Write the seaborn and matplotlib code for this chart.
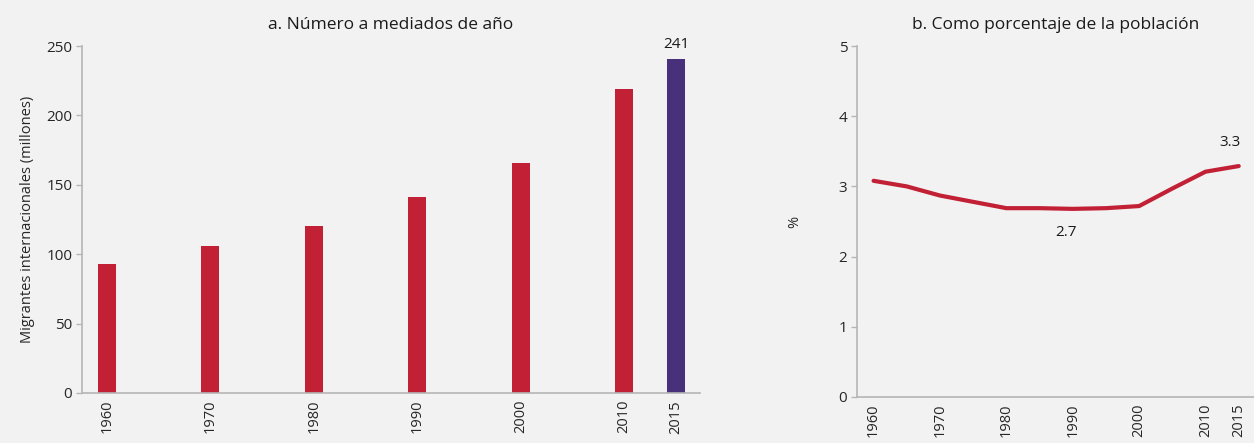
import matplotlib
matplotlib.use('Agg')
import matplotlib.pyplot as plt
import seaborn as sns
import pandas as pd

# datos
anios_barras = [1960, 1970, 1980, 1990, 2000, 2010, 2015]
migrantes = [93, 106, 120, 141, 166, 219, 241]
grupo = ['hist', 'hist', 'hist', 'hist', 'hist', 'hist', 'ult']

anios_linea = [1960, 1965, 1970, 1975, 1980, 1985, 1990, 1995, 2000, 2005, 2010, 2015]
porcentaje = [3.08, 3.00, 2.87, 2.78, 2.69, 2.69, 2.68, 2.69, 2.72, 2.97, 3.21, 3.29]

ticks_anios = [1960, 1970, 1980, 1990, 2000, 2010, 2015]

rojo = '#c12035'
morado = '#48317a'
fondo = '#f2f2f2'
gris = '#b5b5b5'

sns.set_style('white')
plt.rcParams['font.family'] = ['Open Sans', 'DejaVu Sans']
plt.rcParams['text.color'] = '#1a1a1a'

fig = plt.figure(figsize=(12.54, 4.43), dpi=100)
fig.patch.set_facecolor(fondo)

ax1 = fig.add_axes([0.0654, 0.113, 0.4926, 0.783])
ax2 = fig.add_axes([0.6834, 0.104, 0.3166, 0.792])

df_barras = pd.DataFrame({'anio': anios_barras, 'valor': migrantes, 'grupo': grupo})
sns.barplot(data=df_barras, x='anio', y='valor', hue='grupo', palette={'hist': rojo, 'ult': morado},
            native_scale=True, width=0.35, dodge=False, legend=False, ax=ax1, saturation=1,
            linewidth=0)
ax1.set_xlim(1957.6, 2017.3)
ax1.set_ylim(0, 250)
ax1.set_yticks([0, 50, 100, 150, 200, 250])
ax1.set_ylabel('Migrantes internacionales (millones)', fontsize=10.5, labelpad=8)
ax1.set_xlabel('')
ax1.set_title('a. Número a mediados de año', fontsize=12.5, pad=12)
ax1.text(2015, 251, '241', ha='center', va='center', fontsize=11)

df_linea = pd.DataFrame({'anio': anios_linea, 'pct': porcentaje})
sns.lineplot(data=df_linea, x='anio', y='pct', color=rojo, linewidth=3.0, ax=ax2)
ax2.set_xlim(1957.5, 2017.3)
ax2.set_ylim(0, 5)
ax2.set_yticks([0, 1, 2, 3, 4, 5])
ax2.set_ylabel('%', fontsize=10.5, labelpad=26)
ax2.set_xlabel('')
ax2.set_title('b. Como porcentaje de la población', fontsize=12.5, pad=12)
ax2.text(2013.7, 3.62, '3.3', ha='center', va='center', fontsize=11)
ax2.text(1989, 2.35, '2.7', ha='center', va='center', fontsize=11)

for ax in (ax1, ax2):
    ax.set_facecolor(fondo)
    ax.set_xticks(ticks_anios)
    ax.set_xticklabels([str(a) for a in ticks_anios], rotation=90, fontsize=10.5)
    ax.tick_params(axis='y', labelsize=11, length=4, color=gris, width=1, left=True, pad=3)
    ax.tick_params(axis='x', length=0, pad=5)
    for s in ('top', 'right'):
        ax.spines[s].set_visible(False)
    for s in ('left', 'bottom'):
        ax.spines[s].set_color(gris)
        ax.spines[s].set_linewidth(1.2)

fig.savefig('out.png', dpi=100, facecolor=fondo)
